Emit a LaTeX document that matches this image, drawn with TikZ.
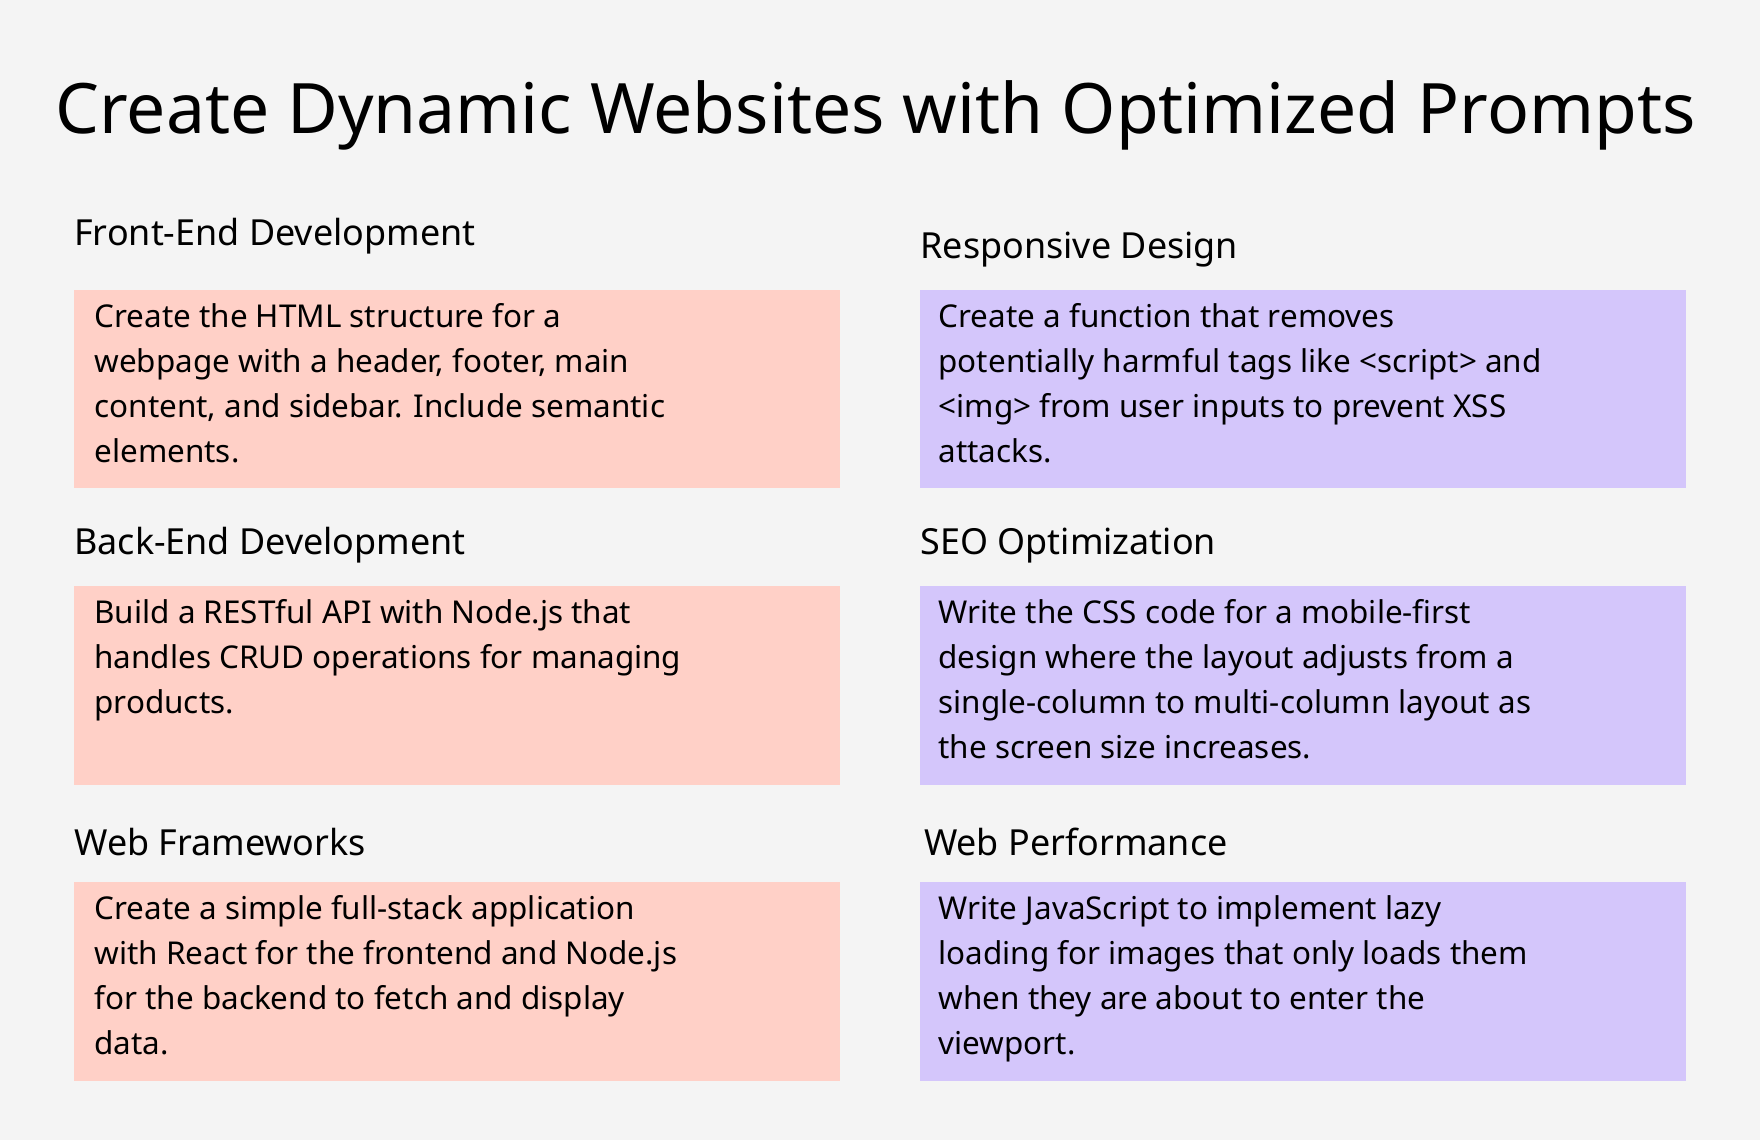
\documentclass[tikz,border=0pt]{standalone}
\usepackage{fontspec}
\setmainfont{Noto Sans}
\definecolor{bg}{HTML}{F4F4F4}
\definecolor{pinkb}{HTML}{FFD0C7}
\definecolor{purb}{HTML}{D4C6FB}
\begin{document}
\begin{tikzpicture}[x=1pt,y=-1pt,
  head/.style={anchor=west,inner sep=0,font=\fontsize{32}{38}\selectfont\bfseries},
  body/.style={anchor=north west,inner sep=0,align=left,font=\fontsize{28}{40}\selectfont},
  pbox/.style={fill=pinkb,draw=none},
  ubox/.style={fill=purb,draw=none}]
\fill[bg] (0,0) rectangle (1568,1016);
\useasboundingbox (0,0) rectangle (1568,1016);
\node[inner sep=0,font=\fontsize{62}{70}\selectfont\bfseries] (title) at (780,103) {Create Dynamic Websites with Optimized Prompts};
\fill[pbox] (66,258) rectangle (748,435);
\fill[pbox] (66,522) rectangle (748,699);
\fill[pbox] (66,786) rectangle (748,963);
\fill[ubox] (820,258) rectangle (1502,435);
\fill[ubox] (820,522) rectangle (1502,699);
\fill[ubox] (820,786) rectangle (1502,963);
\node[head] (h1) at (66,210) {Front-End Development};
\node[head] (h2) at (66,486) {Back-End Development};
\node[head] (h3) at (66,750) {Web Frameworks};
\node[head] (h4) at (820,222) {Responsive Design};
\node[head] (h5) at (820,486) {SEO Optimization};
\node[head] (h6) at (823,750) {Web Performance};
\node[body] (t1) at (84,270) {Create the HTML structure for a\\webpage with a header, footer, main\\content, and sidebar. Include semantic\\elements.};
\node[body] (t2) at (84,534) {Build a RESTful API with Node.js that\\handles CRUD operations for managing\\products.};
\node[body] (t3) at (84,798) {Create a simple full-stack application\\with React for the frontend and Node.js\\for the backend to fetch and display\\data.};
\node[body] (t4) at (836,270) {Create a function that removes\\potentially harmful tags like <script> and\\<img> from user inputs to prevent XSS\\attacks.};
\node[body] (t5) at (836,534) {Write the CSS code for a mobile-first\\design where the layout adjusts from a\\single-column to multi-column layout as\\the screen size increases.};
\node[body] (t6) at (836,798) {Write JavaScript to implement lazy\\loading for images that only loads them\\when they are about to enter the\\viewport.};
\end{tikzpicture}
\end{document}
